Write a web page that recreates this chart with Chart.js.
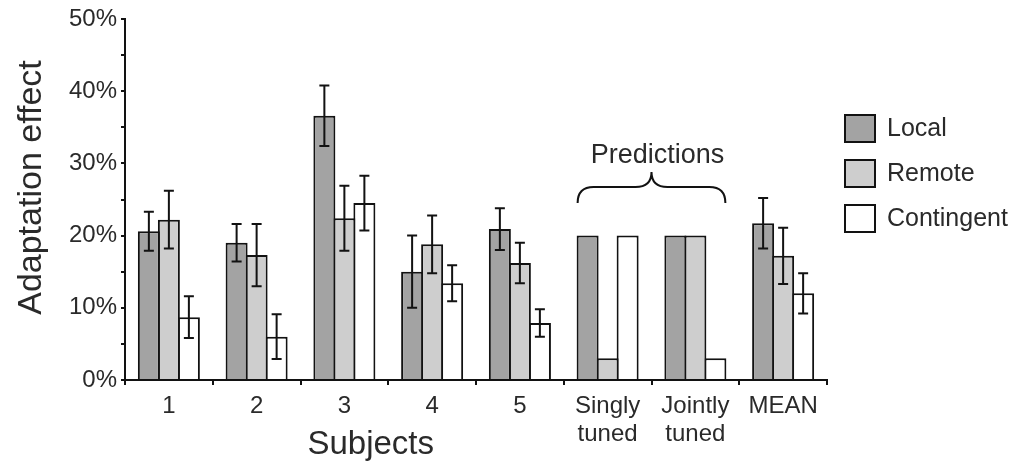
<!DOCTYPE html>
<html>
<head>
<meta charset="utf-8">
<script src="https://cdn.jsdelivr.net/npm/chart.js@4.4.1/dist/chart.umd.min.js"></script>
<style>
  html, body { margin: 0; padding: 0; background: #fff; }
  #wrap { width: 1023px; height: 463px; }
</style>
</head>
<body>
<div id="wrap"><canvas id="adaptChart" width="1023" height="463"></canvas></div>
<script>
// categories (multi-line labels as arrays)
const categories = ['1', '2', '3', '4', '5', ['Singly', 'tuned'], ['Jointly', 'tuned'], 'MEAN'];
const seriesNames = ['Local', 'Remote', 'Contingent'];

// values in %
const localVals      = [20.6, 19.0, 36.6, 15.0, 20.9, 20, 20, 21.7];
const remoteVals     = [22.2, 17.3, 22.4, 18.8, 16.2, 3, 20, 17.2];
const contingentVals = [8.7, 6.0, 24.5, 13.4, 7.9, 20, 3, 12.0];

// error bars (+/-), null = none (predictions)
const localErr      = [2.7, 2.6, 4.2, 5.0, 2.9, null, null, 3.5];
const remoteErr     = [4.0, 4.3, 4.5, 4.0, 2.8, null, null, 3.9];
const contingentErr = [2.9, 3.1, 3.8, 2.5, 1.9, null, null, 2.8];

const yTicks = [0, 10, 20, 30, 40, 50];

const fillColors = ['#a3a3a3', '#cecece', '#ffffff'];
const errLists = [localErr, remoteErr, contingentErr];
const INK = '#121212';
const TXT = '#2a2a2a';
const FONT = '"Liberation Sans", Arial, Helvetica, sans-serif';

/**
 * 에러바, 범례, 괄호 등 그리기
 */
const extrasPlugin = {
  id: 'extras',
  afterDatasetsDraw(chart) {
    const ctx = chart.ctx;
    const y = chart.scales.y;
    ctx.save();
    ctx.strokeStyle = INK;
    ctx.lineWidth = 2;
    chart.data.datasets.forEach((ds, di) => {
      const meta = chart.getDatasetMeta(di);
      meta.data.forEach((bar, i) => {
        const e = errLists[di][i];
        if (e == null) return;
        const v = ds.data[i];
        const yTop = y.getPixelForValue(v + e);
        const yBot = y.getPixelForValue(v - e);
        ctx.beginPath();
        ctx.moveTo(bar.x, yTop); ctx.lineTo(bar.x, yBot);
        ctx.moveTo(bar.x - 5, yTop); ctx.lineTo(bar.x + 5, yTop);
        ctx.moveTo(bar.x - 5, yBot); ctx.lineTo(bar.x + 5, yBot);
        ctx.stroke();
      });
    });
    ctx.restore();
  },
  afterDraw(chart) {
    const ctx = chart.ctx;
    const x = chart.scales.x;
    const area = chart.chartArea;
    ctx.save();
    ctx.fillStyle = TXT;

    // y axis title
    ctx.save();
    ctx.translate(41, (area.top + area.bottom) / 2 - 12);
    ctx.rotate(-Math.PI / 2);
    ctx.font = '34px ' + FONT;
    ctx.textAlign = 'center';
    ctx.textBaseline = 'alphabetic';
    ctx.fillText('Adaptation effect', 0, 0);
    ctx.restore();

    // "Subjects" under groups 1-5
    ctx.font = '33px ' + FONT;
    ctx.textAlign = 'center';
    ctx.textBaseline = 'alphabetic';
    ctx.fillText('Subjects', x.getPixelForValue(2.3), 454);

    // Predictions brace
    const m0 = chart.getDatasetMeta(0).data[5];
    const m2 = chart.getDatasetMeta(2).data[6];
    const xL = m0.x - m0.width / 2 + 1;
    const xR = m2.x + m2.width / 2 - 1;
    const xM = (xL + xR) / 2;
    const yEnd = 203, yMid = 187, yPeak = 172;
    ctx.strokeStyle = INK;
    ctx.lineWidth = 2;
    ctx.beginPath();
    ctx.moveTo(xL, yEnd);
    ctx.quadraticCurveTo(xL, yMid, xL + 16, yMid);
    ctx.lineTo(xM - 16, yMid);
    ctx.quadraticCurveTo(xM, yMid, xM, yPeak);
    ctx.quadraticCurveTo(xM, yMid, xM + 16, yMid);
    ctx.lineTo(xR - 16, yMid);
    ctx.quadraticCurveTo(xR, yMid, xR, yEnd);
    ctx.stroke();
    ctx.font = '27px ' + FONT;
    ctx.textAlign = 'center';
    ctx.textBaseline = 'alphabetic';
    ctx.fillText('Predictions', xM + 6, 163);

    // legend
    const lx = 844, boxW = 32, boxH = 29;
    const ly = [114, 159, 204];
    ctx.font = '25px ' + FONT;
    ctx.textAlign = 'left';
    ctx.textBaseline = 'middle';
    seriesNames.forEach((name, i) => {
      ctx.fillStyle = fillColors[i];
      ctx.fillRect(lx, ly[i], boxW, boxH);
      ctx.strokeStyle = INK;
      ctx.lineWidth = 2;
      ctx.strokeRect(lx + 1, ly[i] + 1, boxW - 2, boxH - 2);
      ctx.fillStyle = TXT;
      ctx.fillText(name, 887, ly[i] + boxH / 2 + 1);
    });
    ctx.restore();
  }
};

const makeDataset = (label, data, idx) => ({
  label: label,
  data: data,
  backgroundColor: fillColors[idx],
  borderColor: INK,
  borderWidth: 2,
  borderSkipped: 'bottom',
  categoryPercentage: 0.684,
  barPercentage: 1.1
});

const config = {
  type: 'bar',
  data: {
    labels: categories,
    datasets: [
      makeDataset('Local', localVals, 0),
      makeDataset('Remote', remoteVals, 1),
      makeDataset('Contingent', contingentVals, 2)
    ]
  },
  options: {
    responsive: false,
    maintainAspectRatio: false,
    animation: { duration: 0 },
    layout: { padding: { top: 19, right: 196, bottom: 0, left: 0 } },
    plugins: {
      legend: { display: false },
      tooltip: { enabled: false }
    },
    scales: {
      y: {
        min: 0,
        max: 50,
        afterFit: (scale) => { scale.width = 125; },
        ticks: {
          stepSize: 5,
          padding: 4,
          color: TXT,
          font: { size: 24, family: FONT },
          callback: (v) => (yTicks.includes(v) ? v + '%' : '')
        },
        grid: { drawOnChartArea: false, drawTicks: true, tickLength: 4, color: INK, lineWidth: 2 },
        border: { display: true, color: INK, width: 2 }
      },
      x: {
        afterFit: (scale) => { scale.height = 83; },
        ticks: {
          autoSkip: false,
          maxRotation: 0,
          padding: 8,
          color: TXT,
          font: { size: 24, family: FONT, lineHeight: 1.15 }
        },
        grid: { offset: true, drawOnChartArea: false, drawTicks: true, tickLength: 5, color: INK, lineWidth: 2 },
        border: { display: true, color: INK, width: 2 }
      }
    }
  },
  plugins: [extrasPlugin]
};

new Chart(document.getElementById('adaptChart'), config);
</script>
</body>
</html>
